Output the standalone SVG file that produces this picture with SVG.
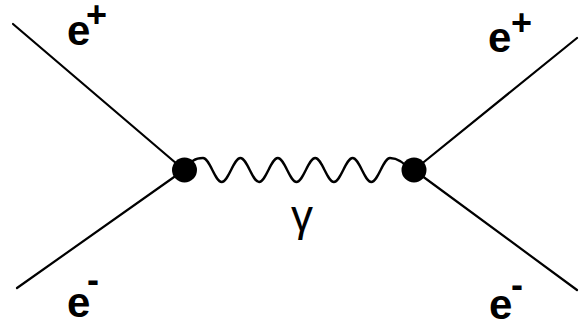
<svg xmlns="http://www.w3.org/2000/svg" width="579" height="321" viewBox="0 0 579 321">
<style>
.ln{stroke:#000;stroke-width:2.2;fill:none;stroke-linecap:round}
.wv{stroke:#000;stroke-width:2.4;fill:none}
.lbl{font-family:"Liberation Sans",Arial,sans-serif;font-weight:bold;fill:#000;font-size:42px}
.sup{font-size:36px}
.g{font-family:"Liberation Sans",Arial,sans-serif;fill:#000}
</style>
<rect width="579" height="321" fill="#fff"/>
<g id="connectors">
<line class="ln" x1="13" y1="24" x2="184" y2="170"/>
<line class="ln" x1="17" y1="288" x2="184" y2="170"/>
<line class="ln" x1="414" y1="170" x2="577" y2="38"/>
<line class="ln" x1="414" y1="170" x2="577" y2="290"/>
<path id="photon" class="wv" d="M186 172 C190 160 196 158 203 158 C209.81 158 214.89 182 221.7 182 C228.51 182 233.59 158 240.4 158 C247.21 158 252.29 182 259.1 182 C265.91 182 270.99 158 277.8 158 C284.61 158 289.69 182 296.5 182 C303.31 182 308.39 158 315.2 158 C322.01 158 327.09 182 333.9 182 C340.71 182 345.79 158 352.6 158 C359.41 158 364.49 182 371.3 182 C378.11 182 383.19 158 390 158 C397 158 404 162 412 172"/>
</g>
<g id="vertex-left"><circle cx="184.5" cy="170" r="12.5" fill="#000"/></g>
<g id="vertex-right"><circle cx="414" cy="170" r="12.5" fill="#000"/></g>
<g id="label-e-plus-left"><text class="lbl" x="67" y="45">e<tspan class="sup" x="86" y="27">+</tspan></text></g>
<g id="label-e-plus-right"><text class="lbl" x="488" y="52">e<tspan class="sup" x="511" y="35">+</tspan></text></g>
<g id="label-e-minus-left"><text class="lbl" x="67" y="317">e<tspan class="sup" x="87" y="292">-</tspan></text></g>
<g id="label-e-minus-right"><text class="lbl" x="489" y="319">e<tspan class="sup" x="511" y="297">-</tspan></text></g>
<g id="label-gamma"><text class="g" x="302" y="231" font-size="44" text-anchor="middle">γ</text></g>
</svg>
